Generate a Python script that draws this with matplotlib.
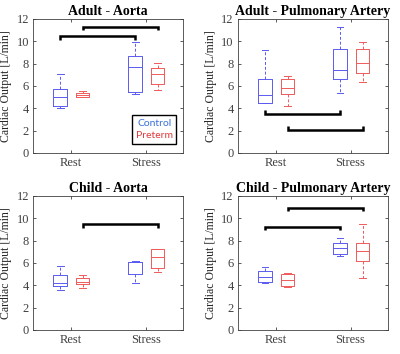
import matplotlib.pyplot as plt

# box stats per panel: [whislo, q1, med, q3, whishi] for rest / stress
groups = ['Rest', 'Stress']
titles = ['Adult - Aorta', 'Adult - Pulmonary Artery', 'Child - Aorta', 'Child - Pulmonary Artery']

adult_ao_control = [[4.0, 4.24, 5.04, 5.7, 7.04], [5.31, 5.43, 7.73, 8.71, 9.95]]
adult_ao_preterm = [[4.98, 5.01, 5.19, 5.37, 5.55], [5.64, 6.15, 7.04, 7.58, 8.03]]
adult_pa_control = [[4.45, 4.48, 5.19, 6.6, 9.22], [5.34, 6.62, 7.43, 9.28, 11.25]]
adult_pa_preterm = [[4.2, 5.25, 5.85, 6.62, 6.89], [6.38, 7.13, 8.03, 9.28, 9.97]]
child_ao_control = [[3.58, 3.94, 4.18, 4.92, 5.73], [4.18, 4.98, 6.1, 6.12, 6.18]]
child_ao_preterm = [[3.79, 4.09, 4.33, 4.62, 4.92], [5.22, 5.52, 6.56, 7.25, 7.27]]
child_pa_control = [[4.18, 4.33, 4.77, 5.28, 5.61], [6.6, 6.78, 7.31, 7.82, 8.21]]
child_pa_preterm = [[3.82, 3.94, 4.48, 5.04, 5.06], [4.63, 6.18, 7.1, 7.76, 9.49]]

# significance bars: (from, to, height) with from/to as (group, series)
sig_adult_ao = [((0, 0), (1, 0), 10.43), ((0, 1), (1, 1), 11.28)]
sig_adult_pa = [((0, 0), (1, 0), 3.49), ((0, 1), (1, 1), 2.03)]
sig_child_ao = [((0, 1), (1, 1), 9.46)]
sig_child_pa = [((0, 0), (1, 0), 9.25), ((0, 1), (1, 1), 10.95)]

panels = [
    (adult_ao_control, adult_ao_preterm, sig_adult_ao),
    (adult_pa_control, adult_pa_preterm, sig_adult_pa),
    (child_ao_control, child_ao_preterm, sig_child_ao),
    (child_pa_control, child_pa_preterm, sig_child_pa),
]

blue = '#5a5af0'
red = '#f05a5a'
offsets = [-0.14, 0.16]
serif = 'Liberation Serif'

fig = plt.figure(figsize=(4.0, 3.54), dpi=100)
axpos = [(0.083, 0.568), (0.595, 0.568), (0.083, 0.068), (0.595, 0.068)]

for k, (ctrl, pre, sigs) in enumerate(panels):
    ax = fig.add_axes([axpos[k][0], axpos[k][1], 0.375, 0.3785])
    for s, (data, col) in enumerate([(ctrl, blue), (pre, red)]):
        stats = []
        for g, v in enumerate(data):
            stats.append(dict(whislo=v[0], q1=v[1], med=v[2], q3=v[3], whishi=v[4], fliers=[]))
        pos = [g + 1 + offsets[s] for g in range(len(data))]
        ax.bxp(stats, positions=pos, widths=0.18, showfliers=False, manage_ticks=False,
               boxprops=dict(color=col, lw=0.7),
               medianprops=dict(color=col, lw=0.7),
               whiskerprops=dict(color=col, lw=0.7, ls=(0, (3, 2))),
               capprops=dict(color=col, lw=0.7), capwidths=0.09)
    for (g1, s1), (g2, s2), h in sigs:
        x1 = g1 + 1 + offsets[s1]
        x2 = g2 + 1 + offsets[s2]
        d = -0.3 if h > 5 else 0.35
        ax.plot([x1, x1, x2, x2], [h + d, h, h, h + d], color='black', lw=1.8,
                solid_capstyle='butt', solid_joinstyle='miter')
    ax.set_xlim(0.5, 2.5)
    ax.set_ylim(0, 12)
    ax.set_xticks([1, 2])
    ax.set_xticklabels(groups, family=serif, fontsize=9)
    ax.set_yticks(range(0, 13, 2))
    ax.set_yticklabels([str(t) for t in range(0, 13, 2)], family=serif, fontsize=9)
    ax.tick_params(direction='in', top=True, right=True, length=2.5, width=0.6,
                   colors='#404040', pad=3)
    for sp in ax.spines.values():
        sp.set_color('#404040')
        sp.set_linewidth(0.6)
    ax.set_ylabel('Cardiac Output [L/min]', family=serif, fontsize=8.5, labelpad=3,
                  color='#262626')
    ax.set_title(titles[k], family=serif, fontweight='bold', fontsize=10, pad=3)

    if k == 0:
        ax.add_patch(plt.Rectangle((1.82, 0.8), 0.59, 2.6, fill=False, lw=1.0,
                                   edgecolor='black', zorder=5))
        ax.text(2.12, 2.6, 'Control', color='#3a6fd8', family='Lato',
                fontsize=7.5, ha='center', va='center', zorder=6)
        ax.text(2.12, 1.55, 'Preterm', color='#e03a3a', family='Lato',
                fontsize=7.5, ha='center', va='center', zorder=6)

fig.savefig('out.png', dpi=100)
